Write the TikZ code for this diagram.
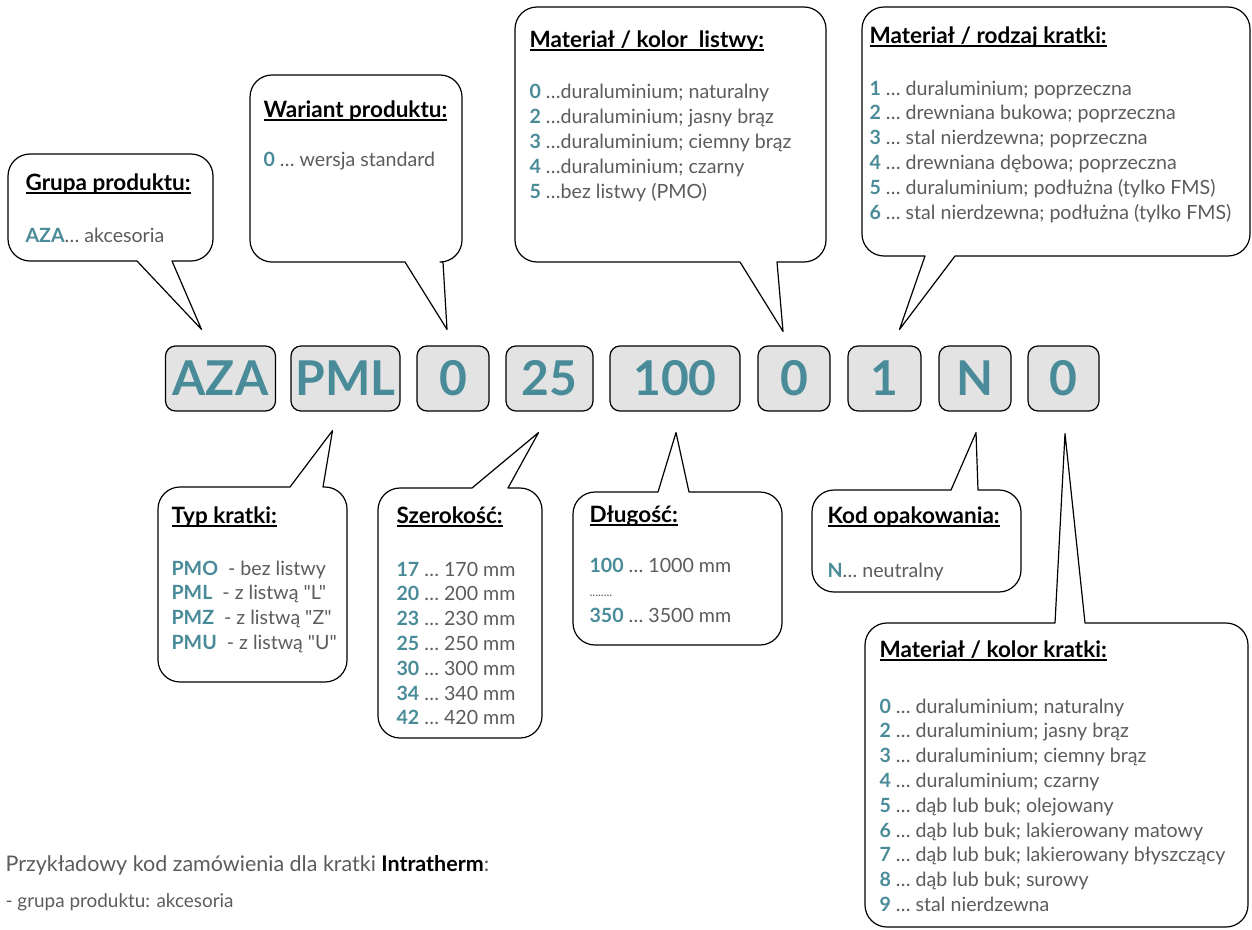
\documentclass[tikz,border=0pt]{standalone}
\usepackage{fontspec}
\setmainfont{Lato}[Ligatures=TeXOff]
\usetikzlibrary{calc}
\definecolor{codeteal}{HTML}{4A8B99}
\definecolor{txtgray}{HTML}{5C5C5C}
\definecolor{boxgray}{HTML}{E3E3E3}
\newcommand{\hd}[1]{\setbox0\hbox{#1}\rlap{\rule[-3.5pt]{\wd0}{1.1pt}}\box0}
\newcommand{\cd}[1]{\textbf{\color{codeteal}#1}}
\newcommand{\qt}{\symbol{34}}

\begin{document}
\begin{tikzpicture}[x=1pt, y=-1pt, line width=1.2pt,
  code/.style={draw, rounded corners=10pt, fill=boxgray, text=codeteal,
    font=\fontsize{48}{48}\selectfont\bfseries, minimum height=65pt, inner sep=0pt},
  bubble/.style={draw, fill=white, line join=round},
  head/.style={anchor=base west, inner sep=0pt, text=black,
    font=\fontsize{22.5}{26}\selectfont\bfseries},
  item/.style={anchor=base west, inner sep=0pt, text=txtgray,
    font=\fontsize{19.6}{23}\selectfont}]
\useasboundingbox (0,0) rectangle (1252,929);
% ----- the order code -----
\node[code, minimum width=110pt] (cgrp) at (220.5,378.5) {AZA};
\node[code, minimum width=109pt] (cpml) at (345.5,378.5) {PML};
\node[code, minimum width=72pt]  (cvar) at (453,378.5) {0};
\node[code, minimum width=87pt]  (cwid) at (549.5,378.5) {25};
\node[code, minimum width=130pt] (clen) at (675,378.5) {100};
\node[code, minimum width=72pt]  (clis) at (794,378.5) {0};
\node[code, minimum width=73pt]  (ckra) at (884.5,378.5) {1};
\node[code, minimum width=72pt]  (cpak) at (975,378.5) {N};
\node[code, minimum width=71pt]  (ccol) at (1063.5,378.5) {0};
% ----- tail tips -----
\coordinate (tgrp) at ($(cgrp.north)+(-19,-16)$);
\coordinate (tvar) at ($(cvar.north)+(-6,-16)$);
\coordinate (tlis) at ($(clis.north)+(-11,-14)$);
\coordinate (tkra) at ($(ckra.north)+(15,-16)$);
\coordinate (tpml) at ($(cpml.south)+(-13,19)$);
\coordinate (twid) at ($(cwid.south)+(-11,21)$);
\coordinate (tlen) at ($(clen.south)+(1,21)$);
\coordinate (tpak) at ($(cpak.south)+(1,21)$);
\coordinate (tcol) at ($(ccol.south)+(1.5,22)$);
% ----- bubbles above (tail down) -----
\foreach \xa/\ya/\xb/\yb/\ta/\tb/\tip in {8/154/213/261/137/172/tgrp,
    250/75/462/262/405/443/tvar, 515/7/826/262/740/777/tlis,
    862/7/1250/256/925/955/tkra}
  \draw[bubble] (\xa,{(\ya+\yb)/2}) [rounded corners=22pt] -- (\xa,\ya)
    -- (\xb,\ya) -- (\xb,\yb) [sharp corners] -- (\tb,\yb) -- (\tip)
    -- (\ta,\yb) [rounded corners=22pt] -- (\xa,\yb) -- cycle;
% ----- bubbles below (tail up) -----
\foreach \xa/\ya/\xb/\yb/\ta/\tb/\tip in {158/487/347/682/290/323/tpml,
    378/488/542/738/472/508/twid, 573/492/782/645/658/689/tlen,
    812/490/1021/592/951/978/tpak, 865/623/1248/927/1055/1085/tcol}
  \draw[bubble] (\xa,{(\ya+\yb)/2}) [rounded corners=22pt] -- (\xa,\ya)
    [sharp corners] -- (\ta,\ya) -- (\tip) -- (\tb,\ya)
    [rounded corners=22pt] -- (\xb,\ya) -- (\xb,\yb) -- (\xa,\yb) -- cycle;
% ----- grupa / wariant -----
\node[head] (hgrp) at (25,190) {\hd{Grupa produktu:}};
\node[item] (igrp) at (25,242) {\cd{AZA}… akcesoria};
\node[head] (hvar) at (263,117) {\hd{Wariant produktu:}};
\node[item] (ivar) at (263,166) {\cd{0} … wersja standard};
% ----- listwa -----
\node[head] (hlis) at (529,47) {\hd{Materiał / kolor\ \ listwy:}};
\foreach \k/\t [count=\i] in {0/duraluminium; naturalny,
    2/duraluminium; jasny brąz, 3/duraluminium; ciemny brąz,
    4/duraluminium; czarny, 5/bez listwy (PMO)}
  \node[item] (ilis\i) at (529,{98+25*(\i-1)}) {\cd{\k} …\t};
% ----- rodzaj kratki -----
\node[head] (hkra) at (869,43) {\hd{Materiał / rodzaj kratki:}};
\foreach \k/\t [count=\i] in {1/duraluminium; poprzeczna,
    2/drewniana bukowa; poprzeczna, 3/stal nierdzewna; poprzeczna,
    4/drewniana dębowa; poprzeczna, 5/duraluminium; podłużna (tylko FMS),
    6/stal nierdzewna; podłużna (tylko FMS)}
  \node[item] (ikra\i) at (869,{95+24.8*(\i-1)}) {\cd{\k} … \t};
% ----- typ kratki -----
\node[head] (hpml) at (171,523) {\hd{Typ kratki:}};
\foreach \k/\t [count=\i] in {PMO/bez listwy, PML/z listwą \qt L\qt,
    PMZ/z listwą \qt Z\qt, PMU/z listwą \qt U\qt}
  \node[item] (ipml\i) at (171,{575+24.7*(\i-1)}) {\cd{\k}\ \ - \t};
% ----- szerokosc -----
\node[head] (hwid) at (396,523) {\hd{Szerokość:}};
\foreach \k/\t [count=\i] in {17/170, 20/200, 23/230, 25/250, 30/300,
    34/340, 42/420}
  \node[item] (iwid\i) at (396,{576+24.8*(\i-1)}) {\cd{\k} … \t{} mm};
% ----- dlugosc -----
\node[head] (hlen) at (589,522) {\hd{Długość:}};
\node[item] (ilen1) at (589,572) {\cd{100} … 1000 mm};
\node[item, font=\fontsize{12}{12}\selectfont] (ilen2) at (589,596) {........};
\node[item] (ilen3) at (589,622) {\cd{350} … 3500 mm};
% ----- opakowanie -----
\node[head] (hpak) at (827,523) {\hd{Kod opakowania:}};
\node[item] (ipak) at (827,577) {\cd{N}… neutralny};
% ----- kolor kratki -----
\node[head] (hcol) at (879,657) {\hd{Materiał / kolor kratki:}};
\foreach \k/\t [count=\i] in {0/duraluminium; naturalny,
    2/duraluminium; jasny brąz, 3/duraluminium; ciemny brąz,
    4/duraluminium; czarny, 5/dąb lub buk; olejowany,
    6/dąb lub buk; lakierowany matowy, 7/dąb lub buk; lakierowany błyszczący,
    8/dąb lub buk; surowy, 9/stal nierdzewna}
  \node[item] (icol\i) at (879,{713+24.8*(\i-1)}) {\cd{\k} … \t};
% ----- example text -----
\node[item, font=\fontsize{21.5}{26}\selectfont] (ex1) at (5,871)
  {Przykładowy kod zamówienia dla kratki \textbf{\color{black}Intratherm}:};
\node[item, font=\fontsize{18.9}{22}\selectfont] (ex2) at (5,907)
  {- grupa produktu: akcesoria};
\end{tikzpicture}
\end{document}
